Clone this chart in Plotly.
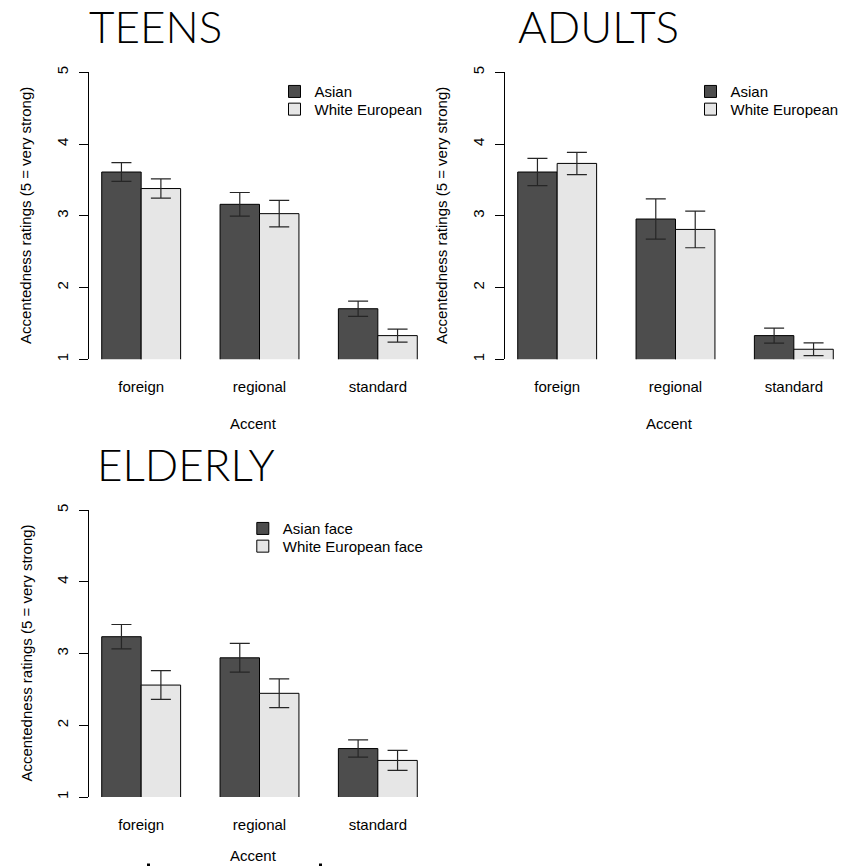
import plotly.graph_objects as go

# page offset (default body margin) and figure size so the figure fills the 852x866 window
OFF = 8
W, H = 852 - OFF, 866 - OFF

accents = ["foreign", "regional", "standard"]

teens_asian = [3.61, 3.16, 1.705]
teens_asian_err = [0.13, 0.165, 0.107]
teens_white = [3.38, 3.03, 1.33]
teens_white_err = [0.135, 0.185, 0.09]

adults_asian = [3.61, 2.955, 1.33]
adults_asian_err = [0.19, 0.28, 0.105]
adults_white = [3.73, 2.81, 1.14]
adults_white_err = [0.155, 0.255, 0.088]

elderly_asian = [3.234, 2.94, 1.675]
elderly_asian_err = [0.17, 0.2, 0.12]
elderly_white = [2.56, 2.445, 1.51]
elderly_white_err = [0.2, 0.2, 0.14]

panel_titles = ["TEENS", "ADULTS", "ELDERLY"]
legend_names = [("Asian", "White European"), ("Asian", "White European"),
                ("Asian face", "White European face")]
y_ticks = [1, 2, 3, 4, 5]
x_title = "Accent"
y_title = "Accentedness ratings (5 = very strong)"

DARK = "#4d4d4d"
LIGHT = "#e6e6e6"
FONT = "Liberation Sans, Arial, sans-serif"
FS = 15

def px_x(p):
    return (p - OFF) / W

def px_y(p):
    return 1 - (p - OFF) / H

# panel plot regions in window pixels: (left, right, top, bottom)
panels = [
    (89.1, 429.9, 72.3, 359.3),
    (505.1, 845.9, 72.3, 359.3),
    (89.1, 429.9, 510.0, 797.0),
]
data = [
    (teens_asian, teens_asian_err, teens_white, teens_white_err),
    (adults_asian, adults_asian_err, adults_white, adults_white_err),
    (elderly_asian, elderly_asian_err, elderly_white, elderly_white_err),
]
# legend square left and first-row center (pixels), row spacing
legend_pos = [(290, 91.7), (706, 91.7), (258.3, 528.7)]
ROW = 17.7
title_pos = [(87, 26.5), (515.5, 26.5), (95, 463.5)]
xtitle_y = [423.3, 423.3, 855.5]

fig = go.Figure()
layout = dict(
    width=W, height=H, margin=dict(l=0, r=0, t=0, b=0, autoexpand=False),
    paper_bgcolor="white", plot_bgcolor="white",
    barmode="group", bargap=1/3, bargroupgap=0,
    font=dict(family=FONT, size=FS, color="black"),
    annotations=[], shapes=[],
)

for i, (pan, d) in enumerate(zip(panels, data)):
    n = i + 1
    xa = "x" if n == 1 else f"x{n}"
    ya = "y" if n == 1 else f"y{n}"
    a, ae, w, we = d
    sx, sy = legend_pos[i]
    for k, (vals, errs, col, name) in enumerate(
            [(a, ae, DARK, legend_names[i][0]), (w, we, LIGHT, legend_names[i][1])]):
        li = 2 * i + k + 1
        lg = "legend" if li == 1 else f"legend{li}"
        fig.add_trace(go.Bar(
            x=accents, y=vals, name=name, xaxis=xa, yaxis=ya, legend=lg,
            marker=dict(color=col, line=dict(color="black", width=1)),
            error_y=dict(type="data", array=errs, visible=True,
                         color="#262626", thickness=1.2, width=10),
            showlegend=True,
        ))
        layout[lg] = dict(
            x=px_x(sx - 15.5), y=px_y(sy + k * ROW), xanchor="left", yanchor="middle",
            bgcolor="rgba(0,0,0,0)", borderwidth=0, font=dict(size=FS),
            itemclick=False, itemdoubleclick=False,
        )
    l, r, t, b = pan
    layout[f"xaxis{'' if n == 1 else n}"] = dict(
        domain=[px_x(l), px_x(r)], anchor=ya, type="category",
        range=[-0.44, 2.44], showline=False, ticks="", showgrid=False,
        zeroline=False, tickfont=dict(size=FS), ticklabelstandoff=17,
    )
    layout[f"yaxis{'' if n == 1 else n}"] = dict(
        domain=[px_y(b), px_y(t)], anchor=xa, range=[1, 5],
        tickvals=y_ticks, ticktext=[str(v) for v in y_ticks],
        showline=True, linecolor="black", linewidth=1,
        ticks="outside", ticklen=9, tickwidth=1, tickcolor="black",
        tickangle=-90, showgrid=False, zeroline=False,
        tickfont=dict(size=FS), ticklabelstandoff=5,
    )
    # axis titles
    layout["annotations"].append(dict(
        text=x_title, xref="paper", yref="paper",
        x=px_x((l + r) / 2 - 6), y=px_y(xtitle_y[i]), xanchor="center", yanchor="middle",
        showarrow=False, font=dict(size=FS)))
    layout["annotations"].append(dict(
        text=y_title, xref="paper", yref="paper",
        x=px_x(l - 63), y=px_y((t + b) / 2), xanchor="center", yanchor="middle",
        textangle=-90, showarrow=False, font=dict(size=FS)))
    tx, ty = title_pos[i]
    layout["annotations"].append(dict(
        text=panel_titles[i], xref="paper", yref="paper",
        x=px_x(tx), y=px_y(ty), xanchor="left", yanchor="middle",
        showarrow=False, font=dict(family="Lato, Open Sans, sans-serif", size=44,
                                   weight=300, color="black")))

# small stray marks at the bottom edge
for mx in [148.5, 320.5]:
    layout["shapes"].append(dict(type="rect", xref="paper", yref="paper",
                                 x0=px_x(mx - 1.5), x1=px_x(mx + 1.5),
                                 y0=0, y1=px_y(863.5),
                                 fillcolor="black", line=dict(width=0)))

fig.update_layout(**layout)
fig.write_html("out.html")
